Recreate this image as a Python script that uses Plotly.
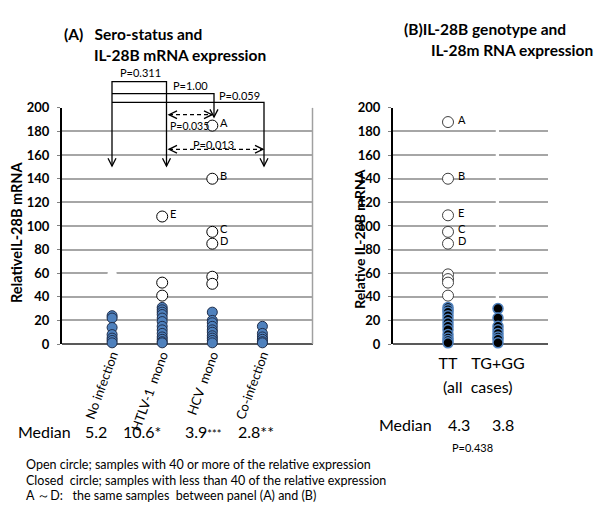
import plotly.graph_objects as go

W, H = 600, 529
def px(x):
    return x / W
def py(y):
    return 1 - y / H

FONT = "Lato"
SP = "&nbsp;"

# ---------------- Panel A data ----------------
cats_a = ["No infection", "HTLV-1" + SP * 2 + "mono", "HCV" + SP * 2 + "mono", "Co-infection"]
pos_a = [1, 2, 3, 4]
closed_a = [
    [24, 22, 14, 8, 5, 3, 1],
    [31, 29, 27, 25, 22, 19, 15, 12, 9, 6, 4, 2, 1],
    [27, 20, 18, 15, 12, 10, 7, 5, 3, 1],
    [15, 9, 6, 4, 2, 1],
]
open_a = [
    [],
    [108, 52, 41],
    [185, 140, 95, 85, 57, 51],
    [],
]
hidden_a = [60]  # white point in "No infection" (covers the grid line)
letters_a = [("E", 2, 108), ("A", 3, 185), ("B", 3, 140), ("C", 3, 95), ("D", 3, 85)]
medians_a = ["5.2", "10.6*", "3.9<span style='font-size:11px'>***</span>", "2.8**"]

# ---------------- Panel B data ----------------
cats_b = ["TT", "TG+GG"]
pos_b = [1, 2]
closed_b = [
    [31, 29, 27, 24, 21, 18, 15, 12, 8, 5, 3, 1],
    [30, 22, 15, 12, 9, 6, 4, 1],
]
open_b = [
    [188, 140, 109, 95, 85, 59, 55, 52, 41],
    [],
]
letters_b = [("A", 1, 188), ("B", 1, 140), ("E", 1, 109), ("C", 1, 95), ("D", 1, 85)]
medians_b = ["4.3", "3.8"]

fig = go.Figure()

# Panel A traces
for p, vals in zip(pos_a, closed_a):
    fig.add_trace(go.Scatter(x=[p] * len(vals), y=vals, mode="markers", xaxis="x", yaxis="y",
                             marker=dict(size=10, color="#4F81BD", line=dict(color="#1F2D4A", width=1)),
                             cliponaxis=False, showlegend=False))
for p, vals in zip(pos_a, open_a):
    if vals:
        fig.add_trace(go.Scatter(x=[p] * len(vals), y=vals, mode="markers", xaxis="x", yaxis="y",
                                 marker=dict(size=11, color="white", line=dict(color="black", width=1)),
                                 cliponaxis=False, showlegend=False))
fig.add_trace(go.Scatter(x=[pos_a[0]] * len(hidden_a), y=hidden_a, mode="markers", xaxis="x", yaxis="y",
                         marker=dict(size=9, color="white", line=dict(width=0)), showlegend=False))

# Panel B traces
for p, vals in zip(pos_b, closed_b):
    fig.add_trace(go.Scatter(x=[p] * len(vals), y=vals, mode="markers", xaxis="x2", yaxis="y2",
                             marker=dict(size=10, color="black", line=dict(color="#4F81BD", width=1.5)),
                             cliponaxis=False, showlegend=False))
for p, vals in zip(pos_b, open_b):
    if vals:
        fig.add_trace(go.Scatter(x=[p] * len(vals), y=vals, mode="markers", xaxis="x2", yaxis="y2",
                                 marker=dict(size=11, color="white", line=dict(color="#404040", width=1)),
                                 cliponaxis=False, showlegend=False))

ydom = [py(346.5), py(103)]
yaxis_common = dict(range=[0, 200], dtick=20, showgrid=True, gridcolor="#A6A6A6", gridwidth=1.5,
                    zeroline=True, zerolinecolor="#595959", zerolinewidth=1.5,
                    showline=True, linecolor="black", linewidth=2,
                    ticks="outside", ticklen=3, tickcolor="#808080", ticklabelstandoff=5,
                    tickfont=dict(family=FONT, size=13, color="black", weight="bold"), fixedrange=True)

fig.update_layout(
    width=W, height=H, margin=dict(l=0, r=0, t=0, b=0),
    paper_bgcolor="white", plot_bgcolor="white", showlegend=False,
    xaxis=dict(domain=[px(62), px(312.5)], range=[0, 5], tickvals=pos_a, ticktext=cats_a,
               tickangle=-70, showgrid=False, zeroline=False, showline=False, ticks="",
               tickfont=dict(family=FONT, size=13, color="black"), anchor="y", fixedrange=True),
    yaxis=dict(domain=ydom, anchor="x", **yaxis_common),
    xaxis2=dict(domain=[px(393), px(548)], range=[-0.1, 3.0], tickvals=pos_b, ticktext=cats_b,
                showgrid=False, zeroline=False, showline=False, ticks="", ticklabelstandoff=8,
                tickfont=dict(family=FONT, size=16, color="black"), anchor="y2", fixedrange=True),
    yaxis2=dict(domain=ydom, anchor="x2", **yaxis_common),
)

shapes = []
# right border of panel A
shapes.append(dict(type="line", xref="paper", yref="paper", x0=px(312.5), x1=px(312.5),
                   y0=py(103), y1=py(346.5), line=dict(color="#A0A0A0", width=1.5)))
# gap in panel B grid lines
shapes.append(dict(type="rect", xref="x2", yref="y2", x0=1.955, x1=2.02, y0=-2, y1=199,
                   fillcolor="white", line=dict(width=0), layer="between"))

LC = dict(color="black", width=1.3)
def path(pts, dash=None):
    d = "M " + " L ".join(f"{px(x)},{py(y)}" for x, y in pts)
    line = dict(LC)
    if dash:
        line["dash"] = dash
    return dict(type="path", xref="paper", yref="paper", path=d, line=line)

def vhead(x, y):
    return path([(x - 4, y - 8), (x, y), (x + 4, y - 8)])
def lhead(x, y):
    return path([(x + 8, y - 4), (x, y), (x + 8, y + 4)])
def rhead(x, y):
    return path([(x - 8, y - 4), (x, y), (x - 8, y + 4)])

xa1, xa2, xa3, xa4 = 112, 166.5, 214, 264
shapes.append(path([(xa1, 163), (xa1, 76), (xa2, 76), (xa2, 163)]))
shapes.append(path([(xa1, 88.3), (xa3, 88.3), (xa3, 112.5)]))
shapes.append(path([(xa1, 97.3), (xa4, 97.3), (xa4, 163)]))
for xx in (xa1, xa2, xa4):
    shapes.append(vhead(xx, 163))
shapes.append(vhead(xa3, 112.5))
shapes.append(path([(169, 110), (212, 110)], dash="4px,3px"))
shapes.append(lhead(169, 110))
shapes.append(rhead(212, 110))
shapes.append(path([(169, 145.7), (263, 145.7)], dash="4px,3px"))
shapes.append(lhead(169, 145.7))
shapes.append(rhead(263, 145.7))
fig.update_layout(shapes=shapes)

ann = []
def text(x, y, t, size=11, bold=False, anchor="center", angle=0):
    ann.append(dict(xref="paper", yref="paper", x=px(x), y=py(y), text=t, showarrow=False,
                    xanchor=anchor, yanchor="middle", textangle=angle,
                    font=dict(family=FONT, size=size, color="black", weight="bold" if bold else "normal")))

# titles
text(62, 27, "(A)" + SP * 3 + "Sero-status and", 15.5, True, "left")
text(92, 48, "IL-28B mRNA expression", 15.5, True, "left")
text(402, 22, "(B)IL-28B genotype and", 15.5, True, "left")
text(429, 43, "IL-28m RNA expression", 15.5, True, "left")
# axis titles
text(17, 232, "RelativeIL-28B mRNA", 14.5, True, "center", -90)
text(360, 239, "Relative IL-28B mRNA", 14, True, "center", -90)
# p-values
text(140.7, 66.7, "P=0.311", 11)
text(190, 80, "P=1.00", 11)
text(239, 90.7, "P=0.059", 11)
text(189, 121.3, "P=0.035", 10.5)
text(213, 140.7, "P=0.013", 11)
# letters
for lt, xp, yv in letters_a:
    ann.append(dict(xref="x", yref="y", x=xp, y=yv, text=lt, showarrow=False, xanchor="left",
                    xshift=6, yshift=3, font=dict(family=FONT, size=11, color="black")))
for lt, xp, yv in letters_b:
    ann.append(dict(xref="x2", yref="y2", x=xp, y=yv, text=lt, showarrow=False, xanchor="left",
                    xshift=8, yshift=3, font=dict(family=FONT, size=11, color="black")))
# medians
text(16, 437, "Median", 16, False, "left")
for xl, t in zip([83, 121, 183, 236], medians_a):
    text(xl, 437, t, 16, False, "left")
text(377, 429, "Median", 16, False, "left")
for xl, t in zip([446, 490], medians_b):
    text(xl, 429, t, 16, False, "left")
text(477, 390, "(all" + SP * 2 + "cases)", 16)
text(472, 453, "P=0.438", 11)
# footnotes
text(24, 471, "Open circle; samples with 40 or more of the relative expression", 12.5, False, "left")
text(24, 487, "Closed" + SP * 2 + "circle; samples with less than 40 of the relative expression", 12.5, False, "left")
text(24, 503, "A \uff5eD:" + SP * 3 + "the same samples" + SP * 2 + "between panel (A) and (B)", 12.5, False, "left")

fig.update_layout(annotations=ann)
fig.write_html("out.html", config={"displayModeBar": False},
               post_script="document.body.style.margin='0px';document.body.style.overflow='hidden';")
